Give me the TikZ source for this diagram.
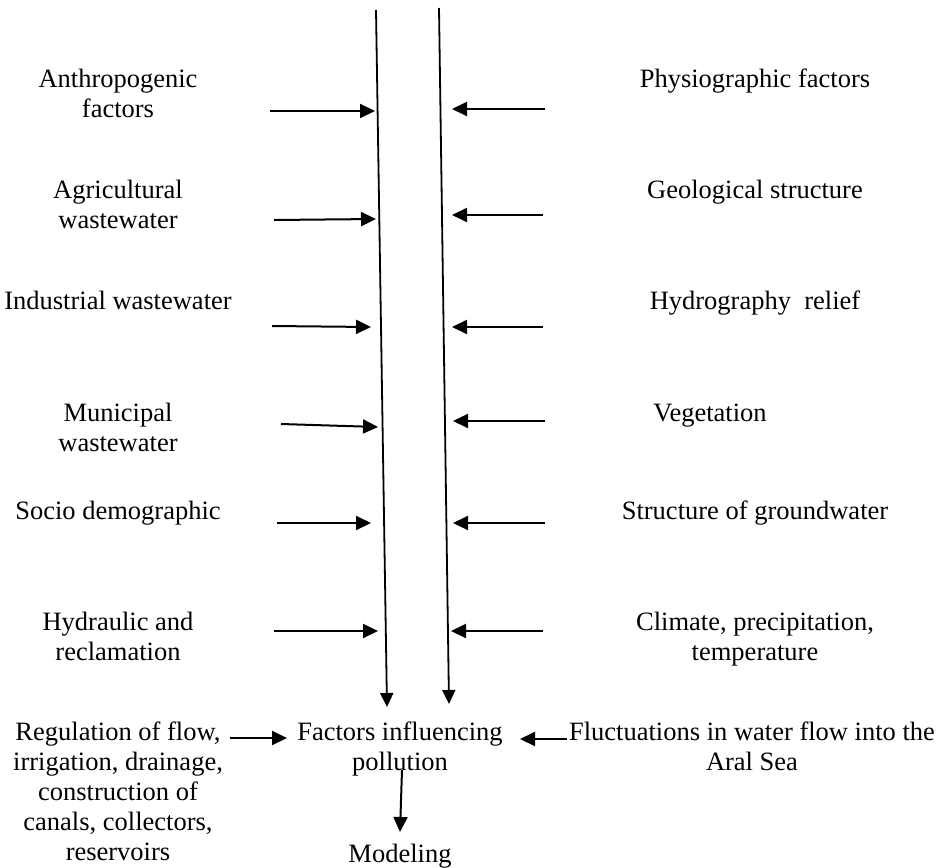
\documentclass[tikz,border=0pt]{standalone}
\usepackage{fontspec}
\setmainfont{Liberation Serif}
\usetikzlibrary{arrows.meta}
\begin{document}
\begin{tikzpicture}[x=1bp, y=-1bp,
  lbl/.style={font=\fontsize{26.5bp}{30bp}\selectfont, align=center, inner sep=0pt, anchor=base},
  arr/.style={-{Triangle[length=15bp, width=14bp]}, line width=2bp},
  pipe/.style={-{Triangle[length=14bp, width=13bp]}, line width=1.8bp}]
\useasboundingbox (0,0) rectangle (938,868);
\coordinate (pl0) at (376,10);
\coordinate (pl1) at (387,707);
\coordinate (pr0) at (439,8);
\coordinate (pr1) at (449,704);
\draw[pipe](pl0) -- (pl1);
\draw[pipe](pr0) -- (pr1);
\node[lbl] (fl0) at (118,117){Anthropogenic\\factors};
\node[lbl] (fl1) at (118,228){Agricultural\\wastewater};
\node[lbl] (fl2) at (118,309){Industrial wastewater};
\node[lbl] (fl3) at (118,451){Municipal\\wastewater};
\node[lbl] (fl4) at (118,519){Socio demographic};
\node[lbl] (fl5) at (118,660){Hydraulic and\\reclamation};
\node[lbl] (fr0) at (755,87){Physiographic factors};
\node[lbl] (fr1) at (755,198){Geological structure};
\node[lbl] (fr2) at (755,309){Hydrography\ \ relief};
\node[lbl] (fr3) at (710,421){Vegetation};
\node[lbl] (fr4) at (755,519){Structure of groundwater};
\node[lbl] (fr5) at (755,660){Climate, precipitation,\\temperature};
\coordinate (al0) at (270,111);
\coordinate (bl0) at (375,111);
\coordinate (al1) at (274,220);
\coordinate (bl1) at (376,219);
\coordinate (al2) at (272,326);
\coordinate (bl2) at (371,327);
\coordinate (al3) at (281,424);
\coordinate (bl3) at (378,427);
\coordinate (al4) at (277,523);
\coordinate (bl4) at (371,523);
\coordinate (al5) at (274,631);
\coordinate (bl5) at (378,631);
\draw[arr](al0) -- (bl0);
\draw[arr](al1) -- (bl1);
\draw[arr](al2) -- (bl2);
\draw[arr](al3) -- (bl3);
\draw[arr](al4) -- (bl4);
\draw[arr](al5) -- (bl5);
\coordinate (ar0) at (545,109);
\coordinate (br0) at (452,109);
\coordinate (ar1) at (543,215);
\coordinate (br1) at (452,215);
\coordinate (ar2) at (543,327);
\coordinate (br2) at (452,327);
\coordinate (ar3) at (545,421);
\coordinate (br3) at (453,421);
\coordinate (ar4) at (545,523);
\coordinate (br4) at (453,523);
\coordinate (ar5) at (543,631);
\coordinate (br5) at (451,631);
\draw[arr](ar0) -- (br0);
\draw[arr](ar1) -- (br1);
\draw[arr](ar2) -- (br2);
\draw[arr](ar3) -- (br3);
\draw[arr](ar4) -- (br4);
\draw[arr](ar5) -- (br5);
\node[lbl] (fc) at (400,770){Factors influencing\\pollution};
\node[lbl] (rg) at (118,860){Regulation of flow,\\irrigation, drainage,\\construction of\\canals, collectors,\\reservoirs};
\node[lbl] (fw) at (752,770){Fluctuations in water flow into the\\Aral Sea};
\node[lbl] (md) at (400,862){Modeling};
\coordinate (rg0) at (230,738);
\coordinate (fc0) at (287,738);
\coordinate (fw0) at (567,739);
\coordinate (fc1) at (520,739);
\coordinate (fc2) at (402,770);
\coordinate (md0) at (400,832);
\draw[arr](rg0) -- (fc0);
\draw[arr](fw0) -- (fc1);
\draw[arr](fc2) -- (md0);
\end{tikzpicture}
\end{document}
